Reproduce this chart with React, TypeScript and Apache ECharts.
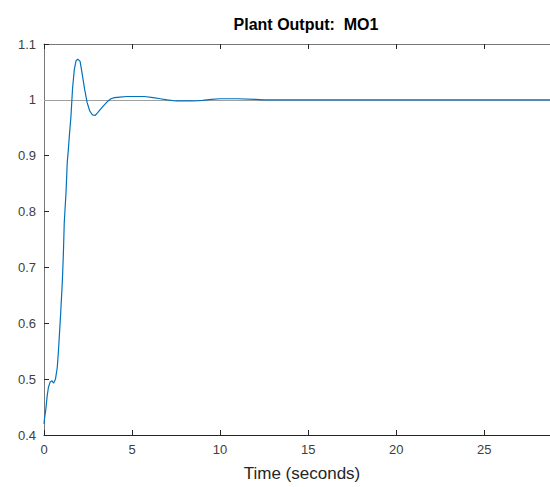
import React, { useEffect, useRef } from "react";
import * as echarts from "echarts";

const titleText = "Plant Output:  MO1";
const xAxisName = "Time (seconds)";
const times = [0, 0.03, 0.1, 0.18, 0.25, 0.35, 0.45, 0.55, 0.65, 0.75, 0.82, 0.95, 1.04, 1.1, 1.15, 1.25, 1.32, 1.38, 1.45, 1.53, 1.62, 1.72, 1.82, 1.92, 2.05, 2.15, 2.3, 2.45, 2.6, 2.75, 2.9, 3.05, 3.2, 3.4, 3.6, 3.8, 4.0, 4.3, 4.7, 5.2, 5.7, 6.2, 6.6, 7.0, 7.5, 8.0, 8.5, 9.0, 9.5, 10, 11, 12, 12.5, 14, 20, 29.3];
const outputValues = [0.42, 0.43, 0.445, 0.47, 0.485, 0.495, 0.497, 0.493, 0.5, 0.52, 0.55, 0.62, 0.674, 0.724, 0.78, 0.834, 0.888, 0.91, 0.94, 0.97, 1.02, 1.054, 1.07, 1.073, 1.069, 1.05, 1.02, 0.995, 0.98, 0.973, 0.972, 0.977, 0.983, 0.99, 0.997, 1.002, 1.004, 1.005, 1.006, 1.006, 1.006, 1.004, 1.002, 1.0, 0.998, 0.998, 0.998, 0.999, 1.001, 1.002, 1.002, 1.001, 1.0, 1.0, 1.0, 1.0];
const referenceValue = 1;
const xTicks = [0, 5, 10, 15, 20, 25];

export default function App() {
  const ref = useRef<HTMLDivElement>(null);
  useEffect(() => {
    if (!ref.current) return;
    const chart = echarts.init(ref.current, null, { renderer: "svg" });
    const font = "Liberation Sans, Arial, Helvetica, sans-serif";
    chart.setOption({
      animation: false,
      backgroundColor: "#ffffff",
      title: {
        text: titleText,
        left: 301,
        textAlign: "center",
        top: 11,
        textStyle: { fontFamily: font, fontSize: 16, fontWeight: "bold", color: "#000" },
      },
      grid: { left: 44, right: 0, top: 44, bottom: 50 },
      xAxis: [
        {
          type: "value",
          min: 0,
          max: 29.3,
          interval: 5,
          position: "bottom",
          name: xAxisName,
          nameLocation: "middle",
          nameGap: 30,
          nameTextStyle: { fontFamily: font, fontSize: 17, color: "#262626" },
          axisLine: { show: true, lineStyle: { color: "#262626", width: 1 } },
          axisTick: { show: true, inside: true, length: 5, lineStyle: { color: "#262626" } },
          axisLabel: {
            fontFamily: font,
            fontSize: 13,
            color: "#404040",
            margin: 8,
            showMaxLabel: false,
            formatter: (v: number) => (xTicks.includes(v) ? String(v) : ""),
          },
          splitLine: { show: false },
        },
        {
          type: "value",
          min: 0,
          max: 29.3,
          interval: 5,
          position: "top",
          axisLine: { show: true, lineStyle: { color: "#777", width: 1 } },
          axisTick: { show: true, inside: true, length: 5, lineStyle: { color: "#262626" } },
          axisLabel: { show: false },
          splitLine: { show: false },
        },
      ],
      yAxis: {
        type: "value",
        min: 0.4,
        max: 1.1,
        interval: 0.1,
        axisLine: { show: true, lineStyle: { color: "#777", width: 1 } },
        axisTick: { show: true, inside: true, length: 5, lineStyle: { color: "#262626" } },
        axisLabel: {
          fontFamily: font,
          fontSize: 13,
          color: "#404040",
          margin: 8,
          formatter: (v: number) => String(parseFloat(v.toFixed(1))),
        },
        splitLine: { show: false },
      },
      series: [
        {
          type: "line",
          data: times.map((t, i) => [t, outputValues[i]]),
          showSymbol: false,
          symbol: "none",
          lineStyle: { color: "#0072BD", width: 1.2 },
          z: 3,
          markLine: {
            silent: true,
            symbol: "none",
            label: { show: false },
            lineStyle: { color: "#a0a0a0", width: 1, type: "solid" },
            data: [{ yAxis: referenceValue }],
            z: 1,
          },
        },
      ],
    });
    return () => chart.dispose();
  }, []);
  return <div ref={ref} style={{ position: "fixed", left: 0, top: 0, width: 560, height: 487 }} />;
}
